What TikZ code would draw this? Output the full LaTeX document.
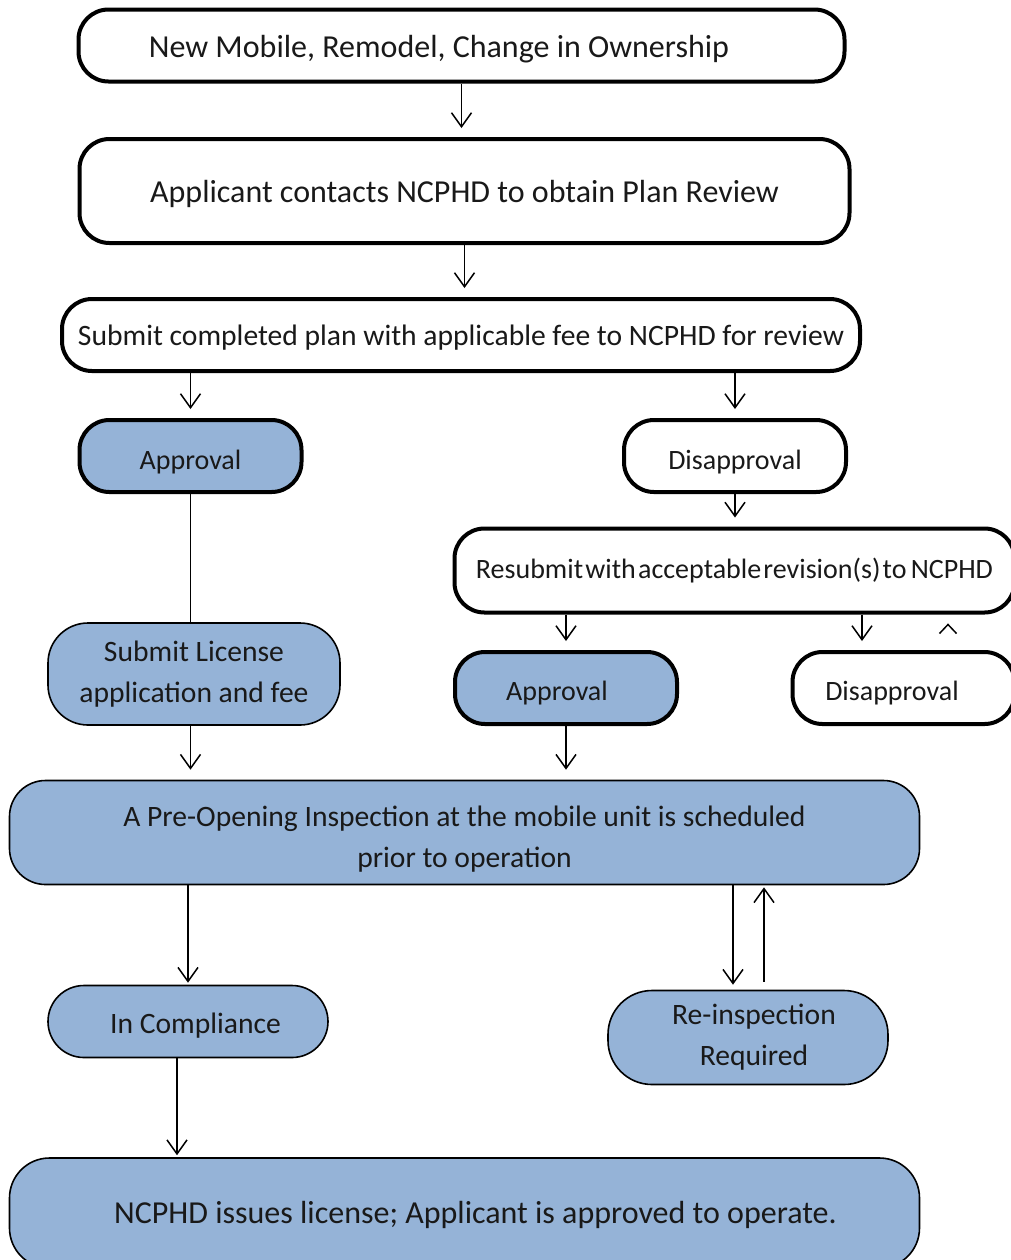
\documentclass[tikz,border=0pt]{standalone}
\usepackage{fontspec}
\setmainfont{Carlito}
\usetikzlibrary{arrows.meta}
\definecolor{boxblue}{HTML}{95B3D7}

\tikzset{
  box/.style={draw, rounded corners=15pt, align=center, inner sep=0pt,
    text=black!90, font=\fontsize{14.8}{20.5}\selectfont},
  plainbox/.style={box, fill=white, line width=2pt},
  bluebox/.style={box, fill=boxblue, line width=0.8pt},
  bluethick/.style={box, fill=boxblue, line width=2pt},
  sunk/.style={text height=#1, text depth=0pt},
  link/.style={-{Straight Barb[length=7pt,width=10pt]}, line width=0.75pt}
}

\begin{document}
\begin{tikzpicture}[x=0.5pt, y=-0.5pt]
\useasboundingbox (0,0) rectangle (1011,1260);
\clip (0,0) rectangle (1011,1260);

% plan review
\node[plainbox, sunk=12.2pt, minimum width=383pt, minimum height=36pt] (start) at (461.5,45.5)
  {\fontsize{16}{20.5}\selectfont New Mobile, Remodel, Change in Ownership\hspace*{22.5pt}};
\node[plainbox, sunk=11.2pt, minimum width=385pt, minimum height=52pt] (contact) at (464.5,191)
  {\fontsize{16}{20.5}\selectfont Applicant contacts NCPHD to obtain Plan Review};
\node[plainbox, sunk=10.3pt, minimum width=399pt, minimum height=36pt] (submit) at (461,335)
  {Submit completed plan with applicable fee to NCPHD for review};

% first decision
\node[bluethick, sunk=13pt, minimum width=111pt, minimum height=36pt] (approve) at (190.5,456)
  {\fontsize{14}{20.5}\selectfont Approval};
\node[plainbox, sunk=13pt, minimum width=111pt, minimum height=36pt] (reject) at (735,456)
  {\fontsize{14}{20.5}\selectfont Disapproval};

% resubmission
\node[plainbox, minimum width=280pt, minimum height=42pt] (resubmit) at (734.5,570.5)
  {\fontsize{14}{20.5}\selectfont Resubmit\hspace{0.08em}with\hspace{0.08em}acceptable\hspace{0.08em}revision(s)\hspace{0.08em}to\hspace{0.15em}NCPHD};
\node[bluebox, rounded corners=20pt, minimum width=146pt, minimum height=51pt] (license) at (194,674)
  {Submit License\\application and fee};
\node[bluethick, sunk=12pt, minimum width=111pt, minimum height=36pt] (reapprove) at (566,688)
  {\fontsize{14}{20.5}\selectfont Approval\hspace*{9pt}};
\node[plainbox, sunk=12pt, minimum width=111pt, minimum height=36pt] (rereject) at (903.5,688)
  {\fontsize{14}{20.5}\selectfont Disapproval\hspace*{11.5pt}};

% inspection
\node[bluebox, rounded corners=18pt, minimum width=455pt, minimum height=52pt] (inspect) at (464.5,832.5)
  {\rule{0pt}{17pt}A Pre-Opening Inspection at the mobile unit is scheduled\\prior to operation};
\node[bluebox, sunk=12.3pt, rounded corners=18pt, minimum width=140pt, minimum height=36pt] (comply) at (188,1021.5)
  {\hspace*{7.5pt}In Compliance};
\node[bluebox, rounded corners=22pt, minimum width=140pt, minimum height=47pt] (reinspect) at (748,1037.5)
  {\hspace*{6pt}Re-inspection\\\hspace*{6pt}Required};
\node[bluebox, sunk=10.2pt, rounded corners=20pt, minimum width=455pt, minimum height=55pt] (issue) at (464.5,1213)
  {\hspace*{11pt}\fontsize{16}{20.5}\selectfont NCPHD issues license; Applicant is approved to operate.};

% free ends
\coordinate (rejdrop) at (862,0);
\coordinate (retip) at (948,0);
\coordinate (insdown) at (733,0);
\coordinate (insup) at (764,0);
\coordinate (compdrop) at (177,0);

% connectors
\draw[link, shorten >=4.5pt] (start.south) -- (start.south |- contact.north);
\draw[link, shorten >=4.5pt] (contact.south) -- (contact.south |- submit.north);
\draw[link, shorten >=4.5pt] (submit.south -| approve) -- (approve.north);
\draw[link, shorten >=4.5pt] (submit.south -| reject) -- (reject.north);
\draw[line width=0.75pt] (approve.south) -- (approve.south |- license.north);
\draw[link, shorten >=4.5pt] (reject.south) -- (reject.south |- resubmit.north);
\draw[link, shorten >=4.5pt] (resubmit.south -| reapprove) -- (reapprove.north);
\draw[link, shorten >=4.5pt] (resubmit.south -| rejdrop) -- (rereject.north -| rejdrop);
\draw[line width=0.75pt] ([xshift=-4.25pt, yshift=-9.5pt]resubmit.south -| retip)
  -- ([yshift=-5pt]resubmit.south -| retip) -- ([xshift=4.25pt, yshift=-9.5pt]resubmit.south -| retip);
\draw[link, shorten >=5pt] (license.south -| approve) -- (inspect.north -| approve);
\draw[link, shorten >=5pt] (reapprove.south) -- (reapprove.south |- inspect.north);
\draw[link, shorten >=1pt] (inspect.south -| comply) -- (comply.north);
\draw[link, shorten >=2.5pt] (inspect.south -| insdown) -- (reinspect.north -| insdown);
\draw[link, shorten <=4pt, shorten >=1pt] (reinspect.north -| insup) -- (inspect.south -| insup);
\draw[link, shorten >=1pt] (comply.south -| compdrop) -- (issue.north -| compdrop);
\end{tikzpicture}
\end{document}
